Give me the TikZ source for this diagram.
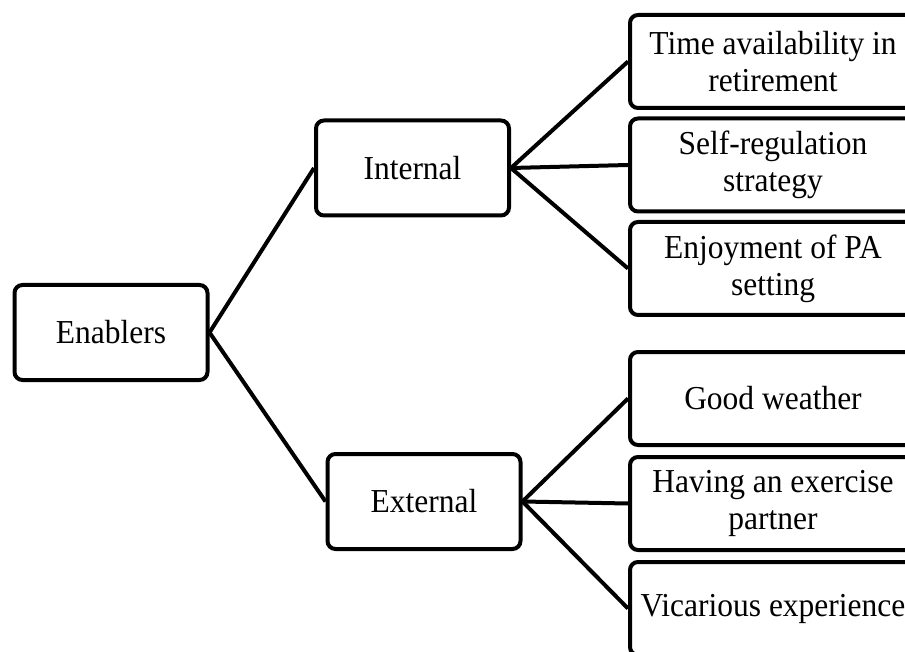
\documentclass[tikz,border=0pt]{standalone}
\usepackage{fontspec}
\setmainfont{Liberation Serif}
% slightly condensed serif for the box labels
\newfontfamily\boxfont[FakeStretch=0.94]{Liberation Serif}
\begin{document}
\begin{tikzpicture}[x=1pt, y=-1pt,
  box/.style={draw, line width=4pt, rounded corners=8pt, fill=white,
    inner sep=0pt, align=center, font=\boxfont\fontsize{33.5}{37}\selectfont},
  catbox/.style={box, minimum width=193pt, minimum height=95pt},
  leafbox/.style={box, minimum width=286pt, minimum height=93pt},
  link/.style={line width=4pt}]
  \useasboundingbox (0,0) rectangle (905,652);
  \clip (0,0) rectangle (905,652);

  % root and the two categories
  \node[catbox] (root) at (111,332.5) {Enablers};
  \node[catbox] (int)  at (412.5,168) {Internal};
  \node[catbox] (ext)  at (424,501.5) {External};

  % internal enablers
  \node[leafbox] (i1) at (773,61.5)  {Time availability in\\retirement};
  \node[leafbox] (i2) at (773,165)   {Self-regulation\\strategy};
  \node[leafbox] (i3) at (773,268.5) {Enjoyment of PA\\setting};

  % external enablers
  \node[leafbox] (e1) at (773,398.5) {Good weather};
  \node[leafbox] (e2) at (773,503.5) {Having an exercise\\partner};
  \node[leafbox] (e3) at (773,608.5) {Vicarious experience};

  % connectors
  \draw[link] (root.east) -- (int.west);
  \draw[link] (root.east) -- (ext.west);
  \foreach \n in {i1,i2,i3} \draw[link] (int.east) -- (\n.west);
  \foreach \n in {e1,e2,e3} \draw[link] (ext.east) -- (\n.west);
\end{tikzpicture}
\end{document}
